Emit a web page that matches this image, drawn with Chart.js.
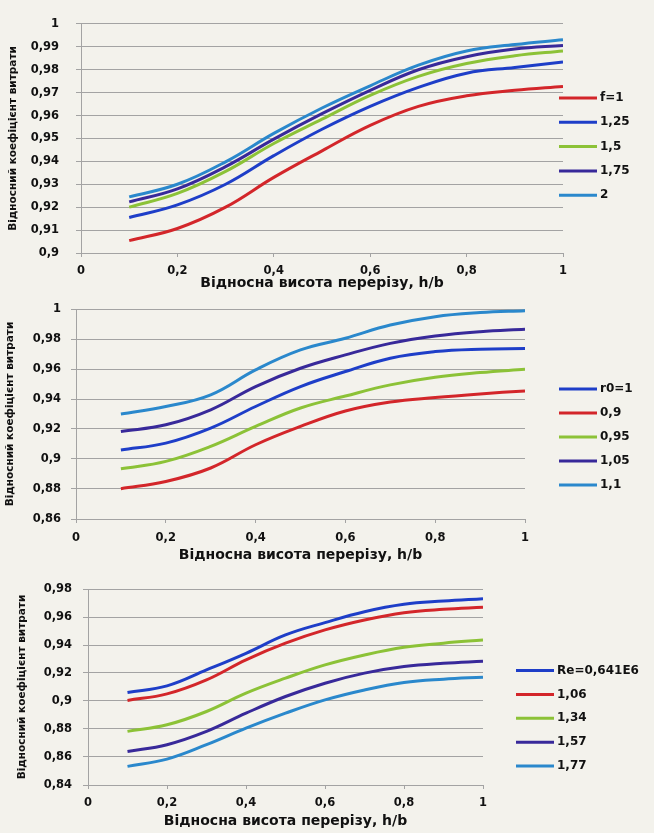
<!DOCTYPE html>
<html>
<head>
<meta charset="utf-8">
<script src="https://cdn.jsdelivr.net/npm/chart.js@4/dist/chart.umd.min.js"></script>
<style>
  body { margin: 0; background: #f3f2ec; }
  .box { position: absolute; left: 0; width: 654px; }
</style>
</head>
<body>
<div class="box" style="top:0;height:292px"><canvas id="c1"></canvas></div>
<div class="box" style="top:292px;height:272px"><canvas id="c2"></canvas></div>
<div class="box" style="top:564px;height:269px"><canvas id="c3"></canvas></div>
<script>
// relative height h/b
var hb = [0.1, 0.2, 0.3, 0.4, 0.5, 0.6, 0.7, 0.8, 0.9, 1.0];
var xTicks = [0, 0.2, 0.4, 0.6, 0.8, 1];

// chart 1 - f
var labels1 = ['f=1', '1,25', '1,5', '1,75', '2'];
var f1   = [0.9054, 0.9107, 0.9200, 0.9330, 0.9446, 0.9557, 0.9640, 0.9686, 0.9710, 0.9727];
var f125 = [0.9155, 0.9210, 0.9300, 0.9425, 0.9540, 0.9640, 0.9723, 0.9785, 0.9810, 0.9834];
var f15  = [0.9200, 0.9260, 0.9356, 0.9478, 0.9584, 0.9688, 0.9771, 0.9827, 0.9861, 0.9882];
var f175 = [0.9223, 0.9280, 0.9377, 0.9497, 0.9608, 0.9710, 0.9800, 0.9857, 0.9890, 0.9906];
var f2   = [0.9245, 0.9300, 0.9398, 0.9522, 0.9633, 0.9730, 0.9820, 0.9882, 0.9910, 0.9931];
var yTicks1 = [0.9, 0.91, 0.92, 0.93, 0.94, 0.95, 0.96, 0.97, 0.98, 0.99, 1];

// chart 2 - r0
var labels2 = ['r0=1', '0,9', '0,95', '1,05', '1,1'];
var r1   = [0.9060, 0.9106, 0.9206, 0.9350, 0.9483, 0.9583, 0.9672, 0.9716, 0.9732, 0.9736];
var r09  = [0.8802, 0.8850, 0.8940, 0.9095, 0.9217, 0.9320, 0.9380, 0.9410, 0.9434, 0.9454];
var r095 = [0.8935, 0.8984, 0.9084, 0.9217, 0.9340, 0.9420, 0.9494, 0.9545, 0.9576, 0.9598];
var r105 = [0.9183, 0.9228, 0.9328, 0.9483, 0.9605, 0.9694, 0.9771, 0.9820, 0.9849, 0.9865];
var r11  = [0.9300, 0.9350, 0.9428, 0.9594, 0.9727, 0.9805, 0.9893, 0.9949, 0.9976, 0.9989];
var yTicks2 = [0.86, 0.88, 0.9, 0.92, 0.94, 0.96, 0.98, 1];

// chart 3 - Re
var labels3 = ['Re=0,641E6', '1,06', '1,34', '1,57', '1,77'];
var re0641 = [0.9061, 0.9108, 0.9222, 0.9341, 0.9472, 0.9560, 0.9638, 0.9691, 0.9714, 0.9731];
var re106  = [0.9004, 0.9051, 0.9151, 0.9294, 0.9413, 0.9508, 0.9579, 0.9631, 0.9655, 0.9669];
var re134  = [0.8783, 0.8830, 0.8925, 0.9056, 0.9163, 0.9258, 0.9329, 0.9384, 0.9413, 0.9436];
var re157  = [0.8640, 0.8688, 0.8783, 0.8913, 0.9032, 0.9127, 0.9199, 0.9246, 0.9270, 0.9284];
var re177  = [0.8533, 0.8585, 0.8688, 0.8806, 0.8913, 0.9008, 0.9079, 0.9132, 0.9156, 0.9170];
var yTicks3 = [0.84, 0.86, 0.88, 0.9, 0.92, 0.94, 0.96, 0.98];

var RED = '#d3262a', BLUE = '#1e3ec8', GREEN = '#8cc237', PURPLE = '#38299a', LBLUE = '#2a88cc';
var FONT = '"DejaVu Sans", sans-serif';
var TXT = '#111';
var GRID = '#a3a3a3';

function fmt(v) {
    return String(+v.toFixed(2)).replace('.', ',');
}

// legend drawn as short lines with labels, placed where the original has it
var lineLegend = {
    id: 'lineLegend',
    afterDraw: function (chart, args, opts) {
        var ctx = chart.ctx;
        ctx.save();
        ctx.font = 'bold 12px ' + FONT;
        ctx.textBaseline = 'middle';
        ctx.textAlign = 'left';
        chart.data.datasets.forEach(function (ds, i) {
            var y = opts.y + i * opts.step;
            ctx.strokeStyle = ds.borderColor;
            ctx.lineWidth = 3;
            ctx.beginPath();
            ctx.moveTo(opts.x, y);
            ctx.lineTo(opts.x + opts.w, y);
            ctx.stroke();
            ctx.fillStyle = TXT;
            ctx.fillText(ds.label, opts.x + opts.w + 3, y);
        });
        ctx.restore();
    }
};

function series(label, ys, color) {
    return {
        label: label,
        data: ys.map(function (y, i) { return {x: hb[i], y: y}; }),
        borderColor: color,
        backgroundColor: color,
        borderWidth: 3,
        pointRadius: 0,
        fill: false,
        tension: 0.4
    };
}

function makeChart(id, datasets, yTicks, p) {
    var ctx = document.getElementById(id).getContext('2d');
    return new Chart(ctx, {
        type: 'line',
        data: { datasets: datasets },
        plugins: [lineLegend],
        options: {
            responsive: true,
            maintainAspectRatio: false,
            animation: false,
            layout: { padding: { left: 0, top: p.top, right: p.right, bottom: 0 } },
            plugins: {
                legend: { display: false },
                tooltip: { enabled: false },
                lineLegend: p.legend
            },
            scales: {
                x: {
                    type: 'linear',
                    min: 0, max: 1,
                    afterBuildTicks: function (s) { s.ticks = xTicks.map(function (v) { return {value: v}; }); },
                    afterFit: function (s) { s.height = p.xh; },
                    grid: { drawOnChartArea: false, drawTicks: true, tickLength: 4, color: GRID },
                    border: { color: GRID, width: 1 },
                    ticks: { padding: p.xpad, color: TXT, font: { family: FONT, size: 11.5, weight: 'bold' },
                             maxRotation: 0, callback: function (v) { return fmt(v); } },
                    title: { display: true, text: 'Відносна висота перерізу, h/b', color: TXT,
                             font: { family: FONT, size: 14, weight: 'bold' },
                             padding: { top: 0, bottom: p.xtb } }
                },
                y: {
                    min: yTicks[0], max: yTicks[yTicks.length - 1],
                    afterBuildTicks: function (s) { s.ticks = yTicks.map(function (v) { return {value: v}; }); },
                    afterFit: function (s) { s.width = p.yw; },
                    grid: { color: GRID, lineWidth: 1, tickLength: 5 },
                    border: { color: GRID, width: 1 },
                    ticks: { padding: p.ypad, color: TXT, font: { family: FONT, size: 11.5, weight: 'bold' },
                             callback: function (v) { return fmt(v); } },
                    title: { display: true, text: 'Відносний коефіцієнт витрати', color: TXT,
                             font: { family: FONT, size: 10.5, weight: 'bold' },
                             padding: { top: p.ytt, bottom: 0 } }
                }
            }
        }
    });
}

makeChart('c1', [
    series(labels1[0], f1, RED),
    series(labels1[1], f125, BLUE),
    series(labels1[2], f15, GREEN),
    series(labels1[3], f175, PURPLE),
    series(labels1[4], f2, LBLUE)
], yTicks1, { top: 12, right: 91, xh: 39, xpad: 7, xtb: 0, yw: 81, ypad: 17, ytt: 7,
              legend: { x: 559, y: 98, step: 24.3, w: 38 } });

makeChart('c2', [
    series(labels2[0], r1, BLUE),
    series(labels2[1], r09, RED),
    series(labels2[2], r095, GREEN),
    series(labels2[3], r105, PURPLE),
    series(labels2[4], r11, LBLUE)
], yTicks2, { top: 17, right: 129, xh: 45, xpad: 8, xtb: 0, yw: 76, ypad: 10, ytt: 4,
              legend: { x: 559, y: 97, step: 24, w: 38 } });

makeChart('c3', [
    series(labels3[0], re0641, BLUE),
    series(labels3[1], re106, RED),
    series(labels3[2], re134, GREEN),
    series(labels3[3], re157, PURPLE),
    series(labels3[4], re177, LBLUE)
], yTicks3, { top: 25, right: 171, xh: 48, xpad: 7, xtb: 3, yw: 88, ypad: 11, ytt: 16,
              legend: { x: 516, y: 106.5, step: 23.9, w: 38 } });
</script>
</body>
</html>
